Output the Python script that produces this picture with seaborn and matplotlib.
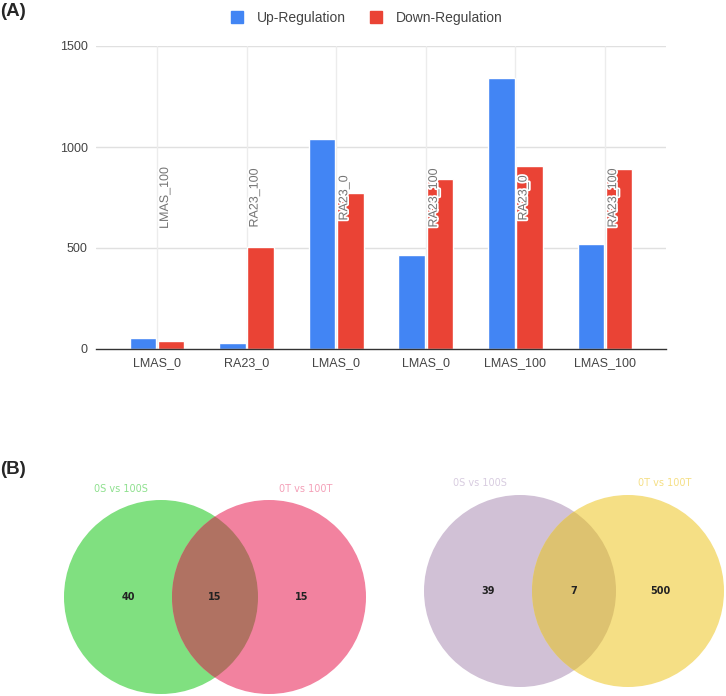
import matplotlib
matplotlib.use('Agg')
import matplotlib.pyplot as plt
import matplotlib.patheffects as pe
from matplotlib.patches import Circle
from matplotlib.lines import Line2D
import seaborn as sns
import pandas as pd

# (A) bar chart data
groups = ['LMAS_0', 'RA23_0', 'LMAS_0', 'LMAS_0', 'LMAS_100', 'LMAS_100']
compared_to = ['LMAS_100', 'RA23_100', 'RA23_0', 'RA23_100', 'RA23_0', 'RA23_100']
up_regulation = [54, 30, 1040, 465, 1340, 520]
down_regulation = [42, 503, 772, 843, 907, 891]

# (B) venn data: only-left, both, only-right
venn1_sets = ['0S vs 100S', '0T vs 100T']
venn1_counts = [40, 15, 15]
venn2_sets = ['0S vs 100S', '0T vs 100T']
venn2_counts = [39, 7, 500]

blue = '#4285F4'
red = '#EA4335'

sns.set_theme(style='white')
plt.rcParams['font.family'] = ['Liberation Sans', 'DejaVu Sans']

df = pd.DataFrame({
    'slot': list(range(len(groups))) * 2,
    'count': up_regulation + down_regulation,
    'Regulation': ['Up-Regulation'] * len(groups) + ['Down-Regulation'] * len(groups),
})

W, H = 726, 696
fig = plt.figure(figsize=(W / 100, H / 100), dpi=100)

# background axes in pixel coords for the venn diagrams
axb = fig.add_axes([0, 0, 1, 1])
axb.set_xlim(0, W)
axb.set_ylim(H, 0)
axb.axis('off')

ax = fig.add_axes([96 / W, 1 - 349 / H, 570 / W, 303 / H])
sns.barplot(data=df, x='slot', y='count', hue='Regulation',
            palette=[blue, red], width=0.63, gap=0.06, saturation=1,
            legend=False, ax=ax, zorder=3)
ax.set_xlim(-0.68, 5.68)
ax.set_ylim(0, 1500)
ax.set_yticks([0, 500, 1000, 1500])
ax.set_xticks(range(len(groups)))
ax.set_xticklabels(groups)
ax.set_xlabel('')
ax.set_ylabel('')
for s in ['top', 'right', 'left']:
    ax.spines[s].set_visible(False)
ax.spines['bottom'].set_color('#333333')
ax.spines['bottom'].set_linewidth(1)
ax.spines['bottom'].set_zorder(5)
ax.tick_params(length=0, labelsize=9, colors='#444444')
ax.tick_params(axis='x', pad=6)
ax.tick_params(axis='y', pad=6)
for v in [500, 1000, 1500]:
    ax.axhline(v, color='#e0e0e0', lw=1, zorder=0)
for i in range(len(groups)):
    ax.axvline(i, color='#ececec', lw=1, zorder=0)

for i, lab in enumerate(compared_to):
    ax.text(i + 0.09, 748, lab, rotation=90, ha='center', va='center',
            fontsize=9, color='#757575', zorder=6,
            path_effects=[pe.withStroke(linewidth=2.5, foreground='white')])

handles = [Line2D([], [], marker='s', ls='', markersize=9, color=blue),
           Line2D([], [], marker='s', ls='', markersize=9, color=red)]
fig.legend(handles, ['Up-Regulation', 'Down-Regulation'], loc='center',
           bbox_to_anchor=(0.5, 1 - 18 / H), ncol=2, frameon=False,
           fontsize=10, handletextpad=0.4, columnspacing=1.2,
           labelcolor='#444444')

fig.text(0, 1 - 11 / H, '(A)', fontsize=13.5, fontweight='bold', va='center')
fig.text(0, 1 - 470 / H, '(B)', fontsize=13.5, fontweight='bold', va='center')


def venn(cx1, cx2, cy, r, sets, counts, c1, c2, cov, lc1, lc2, ly):
    a = Circle((cx1, cy), r, fc=c1, ec='none')
    b = Circle((cx2, cy), r, fc=c2, ec='none')
    axb.add_patch(a)
    axb.add_patch(b)
    ov = Circle((cx1, cy), r, fc=cov, ec='none')
    axb.add_patch(ov)
    ov.set_clip_path(b)
    mid = (cx1 + cx2) / 2
    xs = [(cx1 - r + cx2 - r) / 2 + 10, mid, (cx1 + r + cx2 + r) / 2 - 10]
    for x, n in zip(xs, counts):
        axb.text(x, cy, str(n), ha='center', va='center', fontsize=7,
                 fontweight='bold', color='#222222', family='DejaVu Sans')
    axb.text(cx1 - 40, ly, sets[0], ha='center', va='center', fontsize=7,
             color=lc1, family='DejaVu Sans')
    axb.text(cx2 + 37, ly, sets[1], ha='center', va='center', fontsize=7,
             color=lc2, family='DejaVu Sans')


venn(161, 269, 597, 97, venn1_sets, venn1_counts,
     '#80E080', '#F2829F', '#B07262', '#8EE08E', '#F4A0B8', 489)
venn(520, 628, 591, 96, venn2_sets, venn2_counts,
     '#D1C1D6', '#F5DF85', '#DDC270', '#D8CCE0', '#F5DF85', 483)

fig.savefig('out.png', dpi=100)
